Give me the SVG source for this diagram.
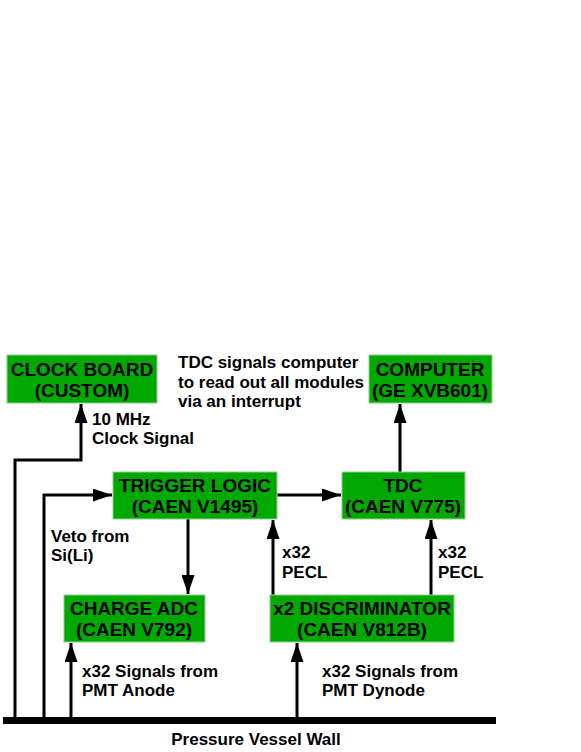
<svg xmlns="http://www.w3.org/2000/svg" width="581" height="752" viewBox="0 0 581 752">
<style>
.box{fill:#00a800;stroke:#8fcf8f;stroke-width:1}
.bt{font-family:"Liberation Sans",Arial,sans-serif;font-weight:bold;font-size:19px;fill:#000;text-anchor:middle}
.lb{font-family:"Liberation Sans",Arial,sans-serif;font-weight:bold;font-size:17px;fill:#000}
.ln{stroke:#000;stroke-width:3;fill:none}
</style>
<defs>
<marker id="ah" markerWidth="19" markerHeight="13" refX="19" refY="6.5" orient="auto" markerUnits="userSpaceOnUse">
<path d="M0,0 L19,6.5 L0,13 Z" fill="#000"/>
</marker>
</defs>
<rect width="581" height="752" fill="#fff"/>
<g id="connectors">
<polyline class="ln" points="15,718 15,460 81,460 81,404" marker-end="url(#ah)"/>
<polyline class="ln" points="44,718 44,495 112,495" marker-end="url(#ah)"/>
<line class="ln" x1="277" y1="495" x2="341" y2="495" marker-end="url(#ah)"/>
<line class="ln" x1="188" y1="519" x2="188" y2="594" marker-end="url(#ah)"/>
<line class="ln" x1="273" y1="595" x2="273" y2="520" marker-end="url(#ah)"/>
<line class="ln" x1="431" y1="595" x2="431" y2="520" marker-end="url(#ah)"/>
<line class="ln" x1="400" y1="472" x2="400" y2="404" marker-end="url(#ah)"/>
<line class="ln" x1="71" y1="718" x2="71" y2="643" marker-end="url(#ah)"/>
<line class="ln" x1="297" y1="718" x2="297" y2="643" marker-end="url(#ah)"/>
<line x1="3" y1="720.5" x2="496" y2="720.5" stroke="#000" stroke-width="7"/>
</g>
<g id="clock">
<rect class="box" x="7" y="355" width="150" height="48"/>
<text class="bt" x="82" y="376">CLOCK BOARD</text>
<text class="bt" x="82" y="397">(CUSTOM)</text>
</g>
<g id="computer">
<rect class="box" x="369" y="355" width="123" height="48"/>
<text class="bt" x="430" y="376">COMPUTER</text>
<text class="bt" x="430" y="397">(GE XVB601)</text>
</g>
<g id="trigger">
<rect class="box" x="113" y="472" width="164" height="47"/>
<text class="bt" x="195" y="492">TRIGGER LOGIC</text>
<text class="bt" x="195" y="513">(CAEN V1495)</text>
</g>
<g id="tdc">
<rect class="box" x="342" y="472" width="123" height="47"/>
<text class="bt" x="403" y="492">TDC</text>
<text class="bt" x="403" y="513">(CAEN V775)</text>
</g>
<g id="adc">
<rect class="box" x="64" y="595" width="141" height="47"/>
<text class="bt" x="134" y="615">CHARGE ADC</text>
<text class="bt" x="134" y="636">(CAEN V792)</text>
</g>
<g id="discriminator">
<rect class="box" x="270" y="595" width="184" height="47"/>
<text class="bt" x="362" y="615">x2 DISCRIMINATOR</text>
<text class="bt" x="362" y="636">(CAEN V812B)</text>
</g>
<g id="labels">
<text class="lb" x="178" y="368">TDC signals computer</text>
<text class="lb" x="178" y="388">to read out all modules</text>
<text class="lb" x="178" y="407">via an interrupt</text>
<text class="lb" x="92" y="425">10 MHz</text>
<text class="lb" x="92" y="444">Clock Signal</text>
<text class="lb" x="51" y="542">Veto from</text>
<text class="lb" x="51" y="561">Si(Li)</text>
<text class="lb" x="282" y="558">x32</text>
<text class="lb" x="282" y="578">PECL</text>
<text class="lb" x="438" y="558">x32</text>
<text class="lb" x="438" y="578">PECL</text>
<text class="lb" x="82" y="677">x32 Signals from</text>
<text class="lb" x="82" y="696">PMT Anode</text>
<text class="lb" x="322" y="677">x32 Signals from</text>
<text class="lb" x="322" y="696">PMT Dynode</text>
<text class="lb" x="256" y="745" text-anchor="middle">Pressure Vessel Wall</text>
</g>
</svg>
